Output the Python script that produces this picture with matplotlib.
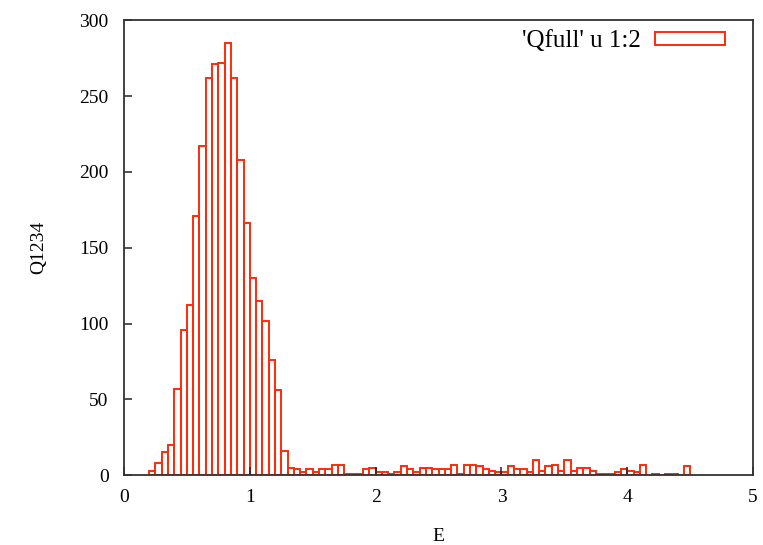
import numpy as np
import matplotlib
matplotlib.use("Agg")
import matplotlib.pyplot as plt

# histogram bins (left edges, width 0.05) and counts
bin_width = 0.05
bin_start = 0.20
counts = [
    3, 8, 15, 20, 57, 96, 112, 171, 217, 262,      # 0.20 - 0.65
    271, 272, 285, 262, 208, 166, 130, 115, 102, 76,  # 0.70 - 1.15
    56, 16, 5, 4, 2, 4, 2, 4, 4, 7,               # 1.20 - 1.65
    7, 1, 1, 1, 4, 5, 2, 2, 1, 2,                 # 1.70 - 2.15
    6, 4, 2, 5, 5, 4, 4, 4, 7, 1,                 # 2.20 - 2.65
    7, 7, 6, 4, 3, 2, 2, 6, 4, 4,                 # 2.70 - 3.15
    2, 10, 3, 6, 7, 3, 10, 3, 5, 5,               # 3.20 - 3.65
    3, 1, 1, 1, 2, 4, 3, 2, 7, 0,                 # 3.70 - 4.15
    1, 0, 1, 1, 0, 6,                             # 4.20 - 4.45
]
edges = bin_start + bin_width * np.arange(len(counts))

legend_label = "'Qfull' u 1:2"
x_label = "E"
y_label = "Q1234"
x_ticks = [0, 1, 2, 3, 4, 5]
y_ticks = [0, 50, 100, 150, 200, 250, 300]

plt.rcParams['font.family'] = ['Liberation Serif', 'DejaVu Serif']
plt.rcParams['font.size'] = 14

fig = plt.figure(figsize=(7.63, 5.45), dpi=100)
ax = fig.add_axes([0.1625, 0.128, 0.8245, 0.835])

ax.bar(edges, counts, width=bin_width, align='edge', facecolor='none',
       edgecolor='#ff2a0a', linewidth=1.4, label=legend_label)

ax.set_xlim(0, 5)
ax.set_ylim(0, 300)
ax.set_xticks(x_ticks)
ax.set_yticks(y_ticks)
ax.tick_params(direction='in', length=6, width=1.1, color='#222222')
ax.tick_params(axis='x', pad=10)
ax.tick_params(axis='y', pad=11)
for s in ax.spines.values():
    s.set_linewidth(1.3)
    s.set_color('#333333')

ax.set_xlabel(x_label, labelpad=16)
ax.set_ylabel(y_label, labelpad=23)

ax.legend(loc='upper right', bbox_to_anchor=(0.955, 0.978), frameon=False,
          markerfirst=False, handlelength=2.8, handleheight=0.45,
          borderpad=0, borderaxespad=0, handletextpad=0.55, fontsize=18)

fig.savefig('out.png', dpi=100)
